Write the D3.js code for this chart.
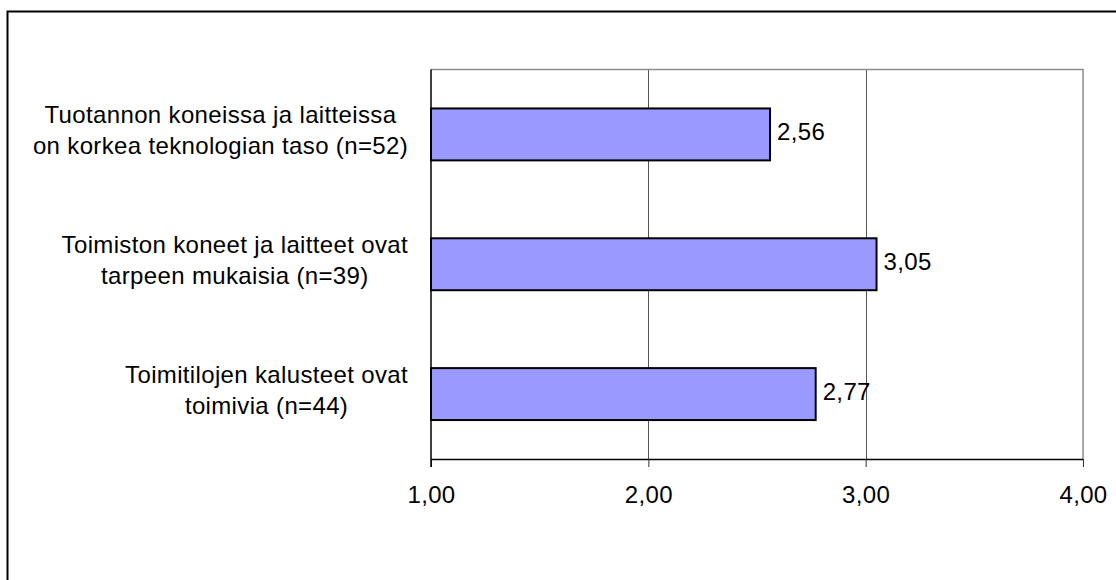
<!DOCTYPE html>
<html>
<head>
<meta charset="utf-8">
<script src="https://cdn.jsdelivr.net/npm/d3@7"></script>
<style>
  html, body { margin: 0; padding: 0; background: #fff; }
  svg { display: block; }
  text { font-family: Arial, "Liberation Sans", sans-serif; fill: #000; }
</style>
</head>
<body>
<svg id="chart" width="1116" height="580"></svg>
<script>
// Statements (each split into its display lines) and their mean scores
const categories = [
  ["Tuotannon koneissa ja laitteissa", "on korkea teknologian taso (n=52)"],
  ["Toimiston koneet ja laitteet ovat", "tarpeen mukaisia (n=39)"],
  ["Toimitilojen kalusteet ovat", "toimivia (n=44)"]
];
const values = [2.56, 3.05, 2.77];
const tickValues = [1, 2, 3, 4];
const tickLabels = ["1,00", "2,00", "3,00", "4,00"];

const W = 1116, H = 580;
const plot = { left: 431, right: 1083, top: 69.5, bottom: 459 };
const fontSize = 24, letterSpacing = 0.35, lineHeight = 31;

const svg = d3.select("#chart");

// outer chart frame (runs past the right and bottom edges)
svg.append("rect")
  .attr("x", 7.5).attr("y", 11.5)
  .attr("width", W).attr("height", H)
  .attr("fill", "#fff")
  .attr("stroke", "#000").attr("stroke-width", 2);

const x = d3.scaleLinear().domain([1, 4]).range([plot.left, plot.right]);
const y = d3.scaleBand()
  .domain(d3.range(categories.length))
  .range([plot.top, plot.bottom])
  .paddingInner(0.6).paddingOuter(0.3);
const band = d3.scaleBand()
  .domain(d3.range(categories.length))
  .range([plot.top, plot.bottom]);

// vertical gridlines
svg.append("g")
  .selectAll("line")
  .data(tickValues.slice(1, -1))
  .join("line")
  .attr("x1", d => Math.round(x(d)) + 0.5).attr("x2", d => Math.round(x(d)) + 0.5)
  .attr("y1", plot.top).attr("y2", plot.bottom)
  .attr("stroke", "#555").attr("stroke-width", 1);

// plot frame: top and right edges in grey
svg.append("path")
  .attr("d", `M${plot.left},${plot.top}H${plot.right}V${plot.bottom}`)
  .attr("fill", "none").attr("stroke", "#8c8c8c").attr("stroke-width", 1.5);

// bars
svg.append("g")
  .selectAll("rect")
  .data(values)
  .join("rect")
  .attr("x", x(1))
  .attr("y", (d, i) => y(i))
  .attr("width", d => x(d) - x(1))
  .attr("height", y.bandwidth())
  .attr("fill", "#9999ff")
  .attr("stroke", "#000").attr("stroke-width", 2);

// value labels
svg.append("g")
  .selectAll("text")
  .data(values)
  .join("text")
  .attr("x", d => x(d) + 7)
  .attr("y", (d, i) => y(i) + y.bandwidth() / 2 + 6)
  .attr("font-size", fontSize)
  .attr("letter-spacing", letterSpacing)
  .text(d => d3.format(".2f")(d).replace(".", ","));

// x axis
const xAxis = d3.axisBottom(x)
  .tickValues(tickValues)
  .tickFormat((d, i) => tickLabels[i])
  .tickSize(8).tickPadding(19);
const gx = svg.append("g")
  .attr("transform", `translate(0,${plot.bottom})`)
  .call(xAxis);
gx.select(".domain").attr("stroke", "#000").attr("stroke-width", 1.5)
  .attr("d", `M${plot.left},0.5H${plot.right}`);
gx.selectAll(".tick line").attr("stroke", "#333");
gx.selectAll(".tick text")
  .attr("font-family", "Arial, 'Liberation Sans', sans-serif")
  .attr("font-size", fontSize)
  .attr("letter-spacing", letterSpacing)
  .attr("fill", "#000");

// left axis line
svg.append("line")
  .attr("x1", plot.left).attr("x2", plot.left)
  .attr("y1", plot.top).attr("y2", plot.bottom + 8)
  .attr("stroke", "#000").attr("stroke-width", 1.5);

// category labels: centred multi-line blocks whose widest line ends near the axis
const labelRight = plot.left - 23;
const gl = svg.append("g");
categories.forEach((lines, i) => {
  const cy = band(i) + band.bandwidth() / 2 - 4.5;
  const t = gl.append("text")
    .attr("font-size", fontSize)
    .attr("letter-spacing", letterSpacing)
    .attr("text-anchor", "middle");
  const spans = lines.map((ln, k) =>
    t.append("tspan")
      .attr("y", cy + (k - (lines.length - 1) / 2) * lineHeight + 8.5)
      .text(ln));
  const maxW = d3.max(spans, s => s.node().getComputedTextLength());
  spans.forEach(s => s.attr("x", labelRight - maxW / 2));
});
</script>
</body>
</html>
